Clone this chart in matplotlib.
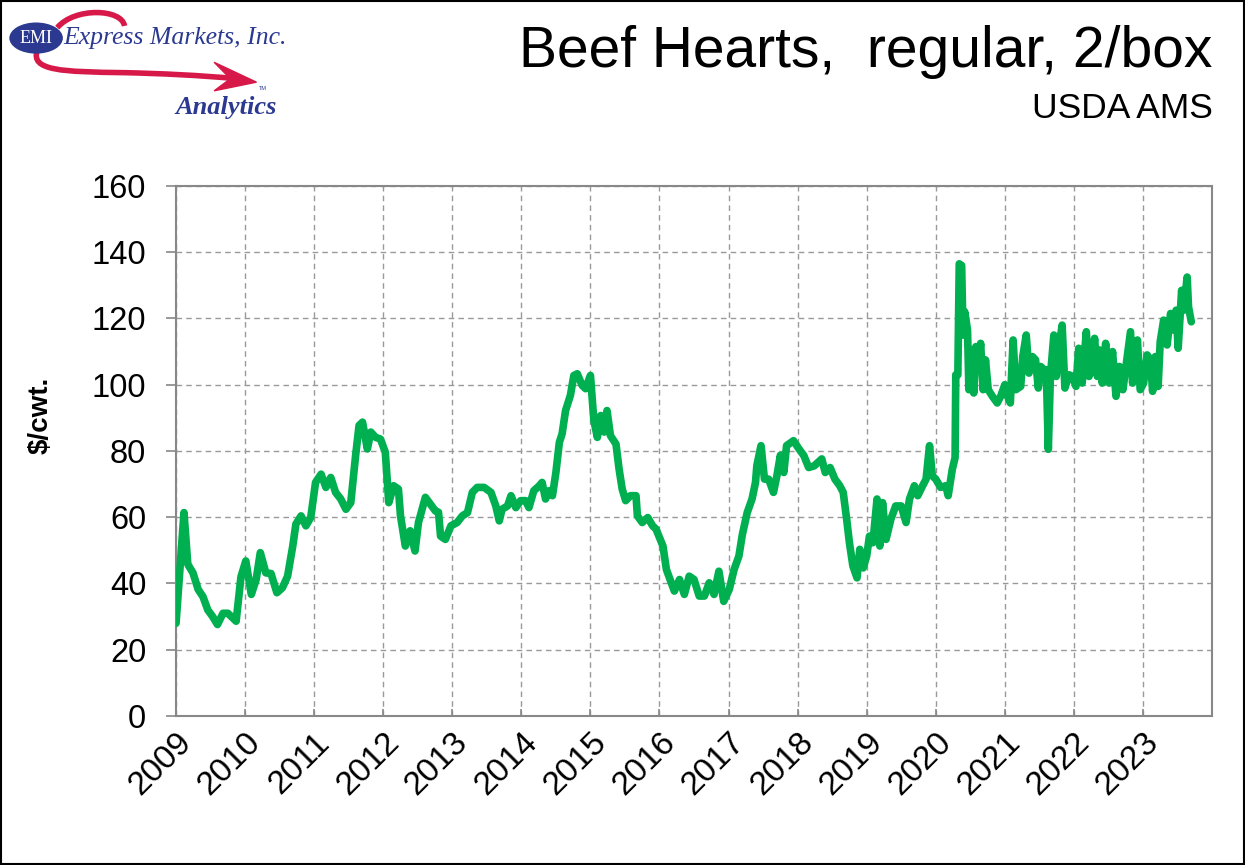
import numpy as np
import matplotlib.pyplot as plt
import matplotlib.transforms as mtransforms
from matplotlib.patches import Ellipse, Rectangle, PathPatch, Polygon
from matplotlib.path import Path

plt.rcParams['font.family'] = ['Liberation Sans', 'DejaVu Sans']

# Weekly-ish readings (decimal year, $/cwt.)
t_2009_2012 = [2009.00, 2009.115, 2009.17, 2009.245, 2009.32, 2009.39, 2009.46, 2009.53, 2009.60,
               2009.68, 2009.75, 2009.82, 2009.87, 2009.94, 2010.01, 2010.09, 2010.16, 2010.22,
               2010.30, 2010.375, 2010.46, 2010.54, 2010.615, 2010.69, 2010.735, 2010.81, 2010.88,
               2010.95, 2011.02, 2011.10, 2011.17, 2011.24, 2011.31, 2011.385, 2011.46, 2011.53,
               2011.60, 2011.65, 2011.70, 2011.77, 2011.82, 2011.89, 2011.96, 2012.03, 2012.08,
               2012.15, 2012.22, 2012.25, 2012.32, 2012.39, 2012.46, 2012.51, 2012.61, 2012.68,
               2012.755, 2012.80, 2012.83, 2012.90, 2012.98]
v_2009_2012 = [28, 61.4, 45.8, 43.2, 38.2, 36, 32, 30, 27.6,
               31, 31, 29.6, 28.6, 42, 46.8, 36.7, 41.2, 49.3,
               43.2, 43, 37.2, 38.7, 42.2, 51.3, 57.9, 60.4, 57.4,
               59.9, 70.5, 73, 69, 72, 67.5, 65.5, 62.4, 64.4,
               78.6, 87.7, 88.7, 80.6, 85.7, 84.1, 83.6, 79.6, 64.4,
               69.5, 68.5, 60.4, 51.3, 55.9, 49.8, 58.4, 66, 64,
               61.9, 61.5, 54.3, 53.3, 57.4]

t_2013_2015 = [2013.07, 2013.145, 2013.22, 2013.29, 2013.36, 2013.46, 2013.56, 2013.63, 2013.68,
               2013.72, 2013.80, 2013.85, 2013.92, 2013.99, 2014.06, 2014.11, 2014.18, 2014.26,
               2014.30, 2014.35, 2014.40, 2014.45, 2014.50, 2014.55, 2014.59, 2014.64, 2014.71,
               2014.76, 2014.81, 2014.88, 2014.93, 2015.00, 2015.05, 2015.10, 2015.15, 2015.20,
               2015.24, 2015.29, 2015.37, 2015.415, 2015.46, 2015.51, 2015.58, 2015.66, 2015.68,
               2015.75, 2015.83, 2015.90, 2015.95]
v_2013_2015 = [58.4, 60.4, 61.4, 67.5, 69, 69, 67.5, 63.4, 58.9,
               62.4, 63.4, 66.5, 62.9, 65, 65, 62.9, 68, 69.5,
               70.5, 65.5, 68, 66.5, 73.5, 82.6, 85.2, 92.2, 96.8,
               102.8, 103.3, 99.8, 98.8, 102.8, 89.2, 84.1, 90.7, 85.7,
               92.2, 84.6, 82.1, 74.5, 68.5, 65, 66.5, 66.5, 60.4,
               58.4, 59.9, 57.4, 56.4]

t_2016_2019 = [2016.05, 2016.10, 2016.17, 2016.215, 2016.29, 2016.36, 2016.43, 2016.50, 2016.575,
               2016.65, 2016.72, 2016.79, 2016.86, 2016.93, 2017.01, 2017.08, 2017.15, 2017.20,
               2017.27, 2017.34, 2017.39, 2017.41, 2017.47, 2017.52, 2017.58, 2017.65, 2017.70,
               2017.75, 2017.80, 2017.84, 2017.94, 2018.02, 2018.09, 2018.16, 2018.24, 2018.35,
               2018.40, 2018.47, 2018.54, 2018.61, 2018.66, 2018.71, 2018.75, 2018.80, 2018.86,
               2018.90, 2018.95, 2019.00, 2019.04, 2019.09, 2019.15, 2019.19, 2019.23, 2019.28,
               2019.35, 2019.42, 2019.50, 2019.57, 2019.62, 2019.69, 2019.74, 2019.81, 2019.86,
               2019.91, 2019.95]
v_2016_2019 = [51.3, 44.2, 40.2, 37.7, 41.2, 36.7, 42.2, 41.2, 36.2,
               36.2, 40.2, 36.7, 43.7, 34.6, 38.2, 44.2, 48.3, 54.8,
               61.4, 65.5, 70.5, 75.6, 81.6, 71.5, 71.5, 67.5, 72.5,
               78.7, 73.5, 81.6, 83.1, 80.6, 78.6, 75, 75.5, 77.6,
               73.5, 75, 71.5, 69.5, 67.5, 59.4, 52.3, 45.3, 41.7,
               50.3, 44.7, 48.3, 54.3, 52.3, 65.5, 51.3, 64.4, 53.3,
               59.4, 63.4, 63.4, 58.4, 65.5, 69.5, 66.5, 69.5, 71.5,
               81.6, 72.5]

t_2020_2023 = [2020.00, 2020.07, 2020.145, 2020.18, 2020.24, 2020.28, 2020.29, 2020.32, 2020.34,
               2020.375, 2020.395, 2020.42, 2020.46, 2020.48, 2020.515, 2020.55, 2020.58, 2020.615,
               2020.65, 2020.685, 2020.72, 2020.76, 2020.82, 2020.89, 2020.94, 2021.00, 2021.04,
               2021.08, 2021.12, 2021.16, 2021.23, 2021.26, 2021.31, 2021.35, 2021.40, 2021.445,
               2021.485, 2021.52, 2021.57, 2021.60, 2021.63, 2021.66, 2021.71, 2021.745, 2021.78,
               2021.83, 2021.87, 2021.93, 2021.98, 2022.03, 2022.07, 2022.12, 2022.18, 2022.22,
               2022.265, 2022.30, 2022.34, 2022.37, 2022.41, 2022.46, 2022.51, 2022.56, 2022.61,
               2022.66, 2022.71, 2022.76, 2022.82, 2022.85, 2022.92, 2022.96, 2023.01, 2023.06,
               2023.11, 2023.14, 2023.18, 2023.22, 2023.25, 2023.30, 2023.35, 2023.40, 2023.45,
               2023.48, 2023.51, 2023.56, 2023.59, 2023.64, 2023.66, 2023.70]
v_2020_2023 = [71.5, 69, 69.5, 66.5, 74.5, 78, 103, 103, 136.5,
               136, 115, 122, 116.5, 98.5, 110.5, 97.5, 111.5, 105.5,
               112.5, 98.5, 107.5, 98.5, 96.5, 94.5, 96.5, 100, 96.5,
               94.5, 113.5, 98.5, 99.5, 108.5, 115, 103.5, 108.5, 107.5,
               99, 105.5, 104.5, 104.5, 80.5, 102.5, 115, 102.5, 110.5,
               118, 99, 103, 102.5, 99.5, 111, 100.5, 116, 102.5,
               106.5, 114, 102.5, 110.5, 100.5, 112.5, 100.5, 110, 96.5,
               105.5, 98.5, 106.5, 116, 100.5, 113.5, 98.5, 100.5, 109,
               107.5, 98, 108.5, 99.5, 113, 119.5, 112, 121.5, 116.5,
               122.5, 111, 128.5, 122.5, 132.5, 123.5, 119]

years = list(range(2009, 2024))
y_ticks = [0, 20, 40, 60, 80, 100, 120, 140, 160]

t = np.array(t_2009_2012 + t_2013_2015 + t_2016_2019 + t_2020_2023)
v = np.array(v_2009_2012 + v_2013_2015 + v_2016_2019 + v_2020_2023)

fig = plt.figure(figsize=(12.45, 8.65), dpi=100)
fig.patch.set_facecolor('white')
ax = fig.add_axes([0.1414, 0.1723, 0.8321, 0.6127])

ax.plot(t, v, color='#00B050', linewidth=5.5, solid_joinstyle='round',
        solid_capstyle='round', zorder=3)

ax.set_xlim(2009, 2024)
ax.set_ylim(0, 160)
ax.set_xticks(years)
ax.set_xticklabels([str(y) for y in years], rotation=45, ha='right', va='top',
                   rotation_mode='anchor', fontsize=24)
shift = mtransforms.ScaledTranslation(-8 / 100, 0, fig.dpi_scale_trans)
for lab in ax.get_xticklabels():
    lab.set_transform(lab.get_transform() + shift)
ax.set_yticks(y_ticks)
ax.set_yticklabels([str(y) for y in y_ticks], fontsize=23.5)
ax.tick_params(axis='y', direction='out', length=7.5, color='#888888', width=1.2, pad=14)
ax.tick_params(axis='x', direction='in', length=5, color='#888888', width=1.2, pad=8)
ax.grid(True, color='#999999', linestyle=(0, (4, 3)), linewidth=1.0)
ax.set_axisbelow(True)
for s in ax.spines.values():
    s.set_color('#888888')
    s.set_linewidth(1.5)
ax.set_ylabel('$/cwt.', fontsize=20, fontweight='bold')
ax.yaxis.set_label_coords(-0.118, 0.568)

# titles
fig.text(0.974, 0.94, 'Beef Hearts,  regular, 2/box', ha='right', va='center', fontsize=41)
fig.text(0.974, 0.874, 'USDA AMS', ha='right', va='center', fontsize=25.5)

# logo
blue = '#2B3990'
red = '#D7194A'
fig.add_artist(PathPatch(Path([(0.046, 0.968), (0.060, 0.992), (0.098, 0.990), (0.100, 0.970)],
                              [Path.MOVETO, Path.CURVE4, Path.CURVE4, Path.CURVE4]),
                         transform=fig.transFigure, facecolor='none', edgecolor=red, lw=4))
fig.add_artist(PathPatch(Path([(0.030, 0.942), (0.024, 0.918), (0.050, 0.917), (0.100, 0.916),
                               (0.130, 0.915), (0.160, 0.913), (0.190, 0.909)],
                              [Path.MOVETO, Path.CURVE4, Path.CURVE4, Path.CURVE4,
                               Path.CURVE4, Path.CURVE4, Path.CURVE4]),
                         transform=fig.transFigure, facecolor='none', edgecolor=red, lw=4))
fig.add_artist(Polygon([(0.206, 0.905), (0.172, 0.928), (0.185, 0.909), (0.172, 0.895)],
                       closed=True, transform=fig.transFigure, facecolor=red, edgecolor=red))
fig.add_artist(Ellipse((0.029, 0.956), 0.043, 0.036, transform=fig.transFigure,
                       facecolor=blue, edgecolor='none'))
fig.text(0.029, 0.955, 'EMI', color='white', ha='center', va='center', fontsize=13,
         family='Liberation Serif')
fig.text(0.0505, 0.956, 'Express Markets, Inc.', color=blue, ha='left', va='center',
         fontsize=18.5, family='Liberation Serif', style='italic')
fig.text(0.2225, 0.876, 'Analytics', color=blue, ha='right', va='center', fontsize=19,
         family='Liberation Serif', style='italic', fontweight='bold')
fig.text(0.211, 0.898, 'TM', color=blue, ha='center', va='center', fontsize=4)

# figure border
fig.add_artist(Rectangle((0.001, 0.001), 0.998, 0.998, transform=fig.transFigure,
                         facecolor='none', edgecolor='black', lw=1.5))

fig.savefig('out.png', dpi=100)
